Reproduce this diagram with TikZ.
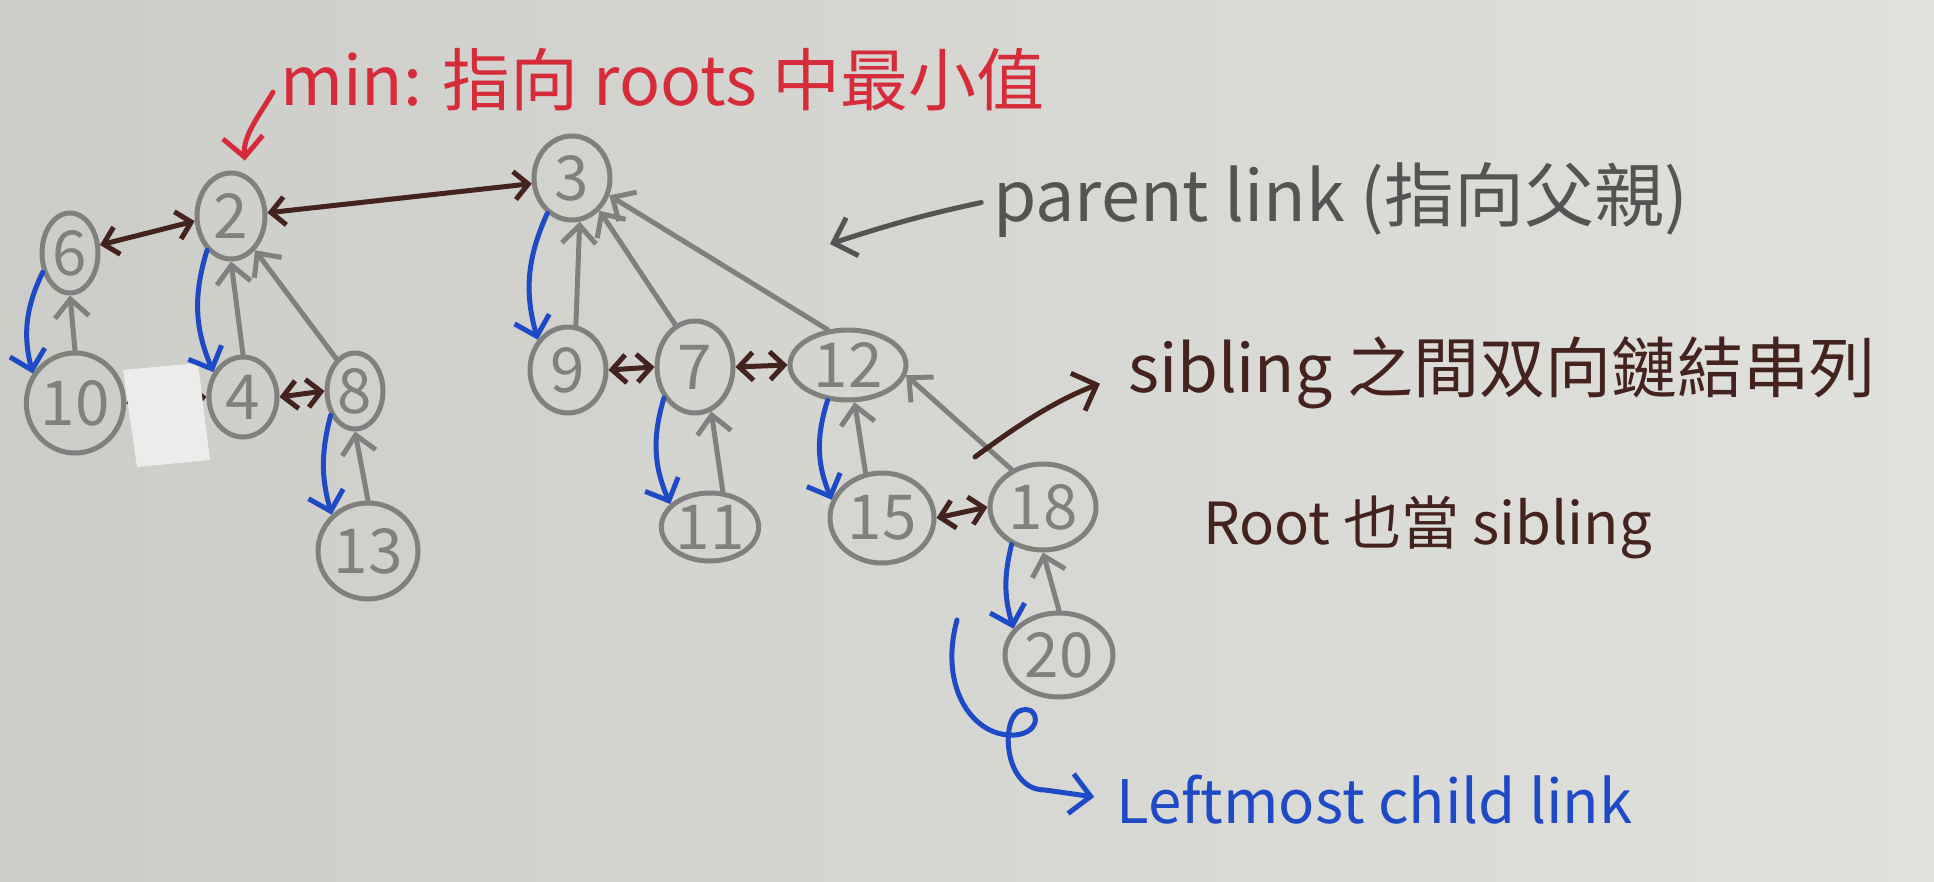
\documentclass[tikz,border=0pt]{standalone}
\usepackage{fontspec}
\setmainfont{Noto Sans CJK TC}
\usepackage{tikz}
\usetikzlibrary{arrows.meta}
\usetikzlibrary{shapes.geometric}

\definecolor{paper}{RGB}{204,204,201}
\definecolor{paperlight}{RGB}{224,224,221}
\definecolor{pencil}{RGB}{128,128,126}
\definecolor{graphite}{RGB}{84,84,82}
\definecolor{inkbrown}{RGB}{68,34,30}
\definecolor{inkred}{RGB}{214,44,58}
\definecolor{inkblue}{RGB}{30,74,198}
\definecolor{tape}{RGB}{236,236,234}

\tikzset{
  heapnode/.style={draw=pencil,ellipse,line width=5pt,inner sep=0pt,text=pencil,font=\fontsize{62}{62}\selectfont},
  parentlink/.style={pencil,line width=5pt,-{Straight Barb[length=18pt,width=34pt]}},
  siblink/.style={inkbrown,line width=5pt,{Straight Barb[length=14pt,width=28pt]}-{Straight Barb[length=14pt,width=28pt]}},
  childlink/.style={inkblue,line width=5pt,-{Straight Barb[length=18pt,width=36pt]}},
  notearrow/.style={line width=5pt,-{Straight Barb[length=20pt,width=40pt]}},
  note/.style={anchor=west,inner sep=0pt,font=\fontsize{64}{64}\selectfont},
}

\begin{document}
\begin{tikzpicture}[x=1pt,y=-1pt,line cap=round,line join=round]
\useasboundingbox (0,0) rectangle (1934,882);
\shade[left color=paper,right color=paperlight] (0,0) rectangle (1934,882);

\node(n6)[heapnode,minimum width=56pt,minimum height=80pt] at (70, 253) {6};
\node(n2)[heapnode,minimum width=68pt,minimum height=86pt] at (231, 216) {2};
\node(n3)[heapnode,minimum width=76pt,minimum height=84pt] at (572, 178) {3};
\node(n10)[heapnode,minimum width=90pt,minimum height=100pt] at (75, 403) {10};
\node(n4)[heapnode,minimum width=68pt,minimum height=80pt] at (243, 397) {4};
\node(n8)[heapnode,minimum width=56pt,minimum height=76pt] at (355, 391) {8};
\node(n13)[heapnode,minimum width=100pt,minimum height=96pt] at (368, 551) {13};
\node(n9)[heapnode,minimum width=76pt,minimum height=86pt] at (568, 370) {9};
\node(n7)[heapnode,minimum width=76pt,minimum height=92pt] at (695, 367) {7};
\node(n12)[heapnode,minimum width=116pt,minimum height=70pt] at (848, 365) {12};
\node(n11)[heapnode,minimum width=80pt,minimum height=68pt] at (710, 527) {11};
\node(n15)[heapnode,minimum width=104pt,minimum height=90pt] at (882, 518) {15};
\node(n18)[heapnode,minimum width=106pt,minimum height=86pt] at (1043, 507) {18};
\node(n20)[heapnode,minimum width=108pt,minimum height=84pt] at (1059, 655) {20};

\node(mintext)[note,text=inkred,font=\fontsize{68}{68}\selectfont] at (280, 80) {min: 指向 roots 中最小值};
\node(parenttext)[note,text=graphite,font=\fontsize{70}{70}\selectfont] at (993, 200) {parent link (指向父親)};
\node(sibtext)[note,text=inkbrown,font=\fontsize{66}{66}\selectfont] at (1128, 373) {sibling 之間双向鏈結串列};
\node(roottext)[note,text=inkbrown,font=\fontsize{58}{58}\selectfont] at (1203, 527) {Root 也當 sibling};
\node(lctext)[note,text=inkblue,font=\fontsize{60}{60}\selectfont] at (1116, 800) {Leftmost child link};

\draw[siblink] (n6.15)--(n2.188); \draw[siblink] (n2.5)--(n3.188);
\draw[siblink] (n10.east)--(n4.west); \draw[siblink] (n4.east)--(n8.west);
\draw[siblink] (n9.east)--(n7.west); \draw[siblink] (n7.east)--(n12.west);
\draw[siblink] (n15.east)--(n18.west);

\fill[tape] (123, 370) -- (198, 363) -- (210, 460) -- (137, 467) -- cycle;

\draw[parentlink] (n10.north)--(n6.south);
\draw[parentlink] (n4.north)--(n2.south); \draw[parentlink] (n8.120)--(n2.-55);
\draw[parentlink] (n13.north)--(n8.south);
\draw[parentlink] (n9.80)--(n3.-80); \draw[parentlink] (n7.115)--(n3.-50); \draw[parentlink] (n12.120)--(n3.-25);
\draw[parentlink] (n11.70)--(n7.-70);
\draw[parentlink] (n15.110)--(n12.-80); \draw[parentlink] (n18.130)--(n12.-10);
\draw[parentlink] (n20.north)--(n18.south);

\draw[childlink] (n6.215) to[bend right=20] (n10.145);
\draw[childlink] (n2.235) to[bend right=20] (n4.140);
\draw[childlink] (n8.225) to[bend right=15] (n13.135);
\draw[childlink] (n3.235) to[bend right=20] (n9.135);
\draw[childlink] (n7.225) to[bend right=20] (n11.150);
\draw[childlink] (n12.240) to[bend right=20] (n15.160);
\draw[childlink] (n18.230) to[bend right=15] (n20.150);

\draw[notearrow,inkred,shorten <=14pt,shorten >=14pt] (mintext.west) to[out=240,in=95] (n2.70);
\coordinate(ptip) at (830, 244);
\draw[notearrow,graphite,shorten <=12pt] (parenttext.west) to[bend right=3] (ptip);
\coordinate(sibtail) at (975, 457);
\draw[notearrow,inkbrown,shorten >=30pt] (sibtail) to[bend left=8] (sibtext.west);
\coordinate(lcstart) at (957, 620);
\draw[notearrow,inkblue,shorten >=22pt] (lcstart) .. controls (938, 690) and (975, 738) .. (1015, 735) .. controls (1042, 733) and (1040, 706) .. (1022, 710) .. controls (1000, 714) and (1002, 790) .. (1045, 790) -- (lctext.west);
\end{tikzpicture}
\end{document}
